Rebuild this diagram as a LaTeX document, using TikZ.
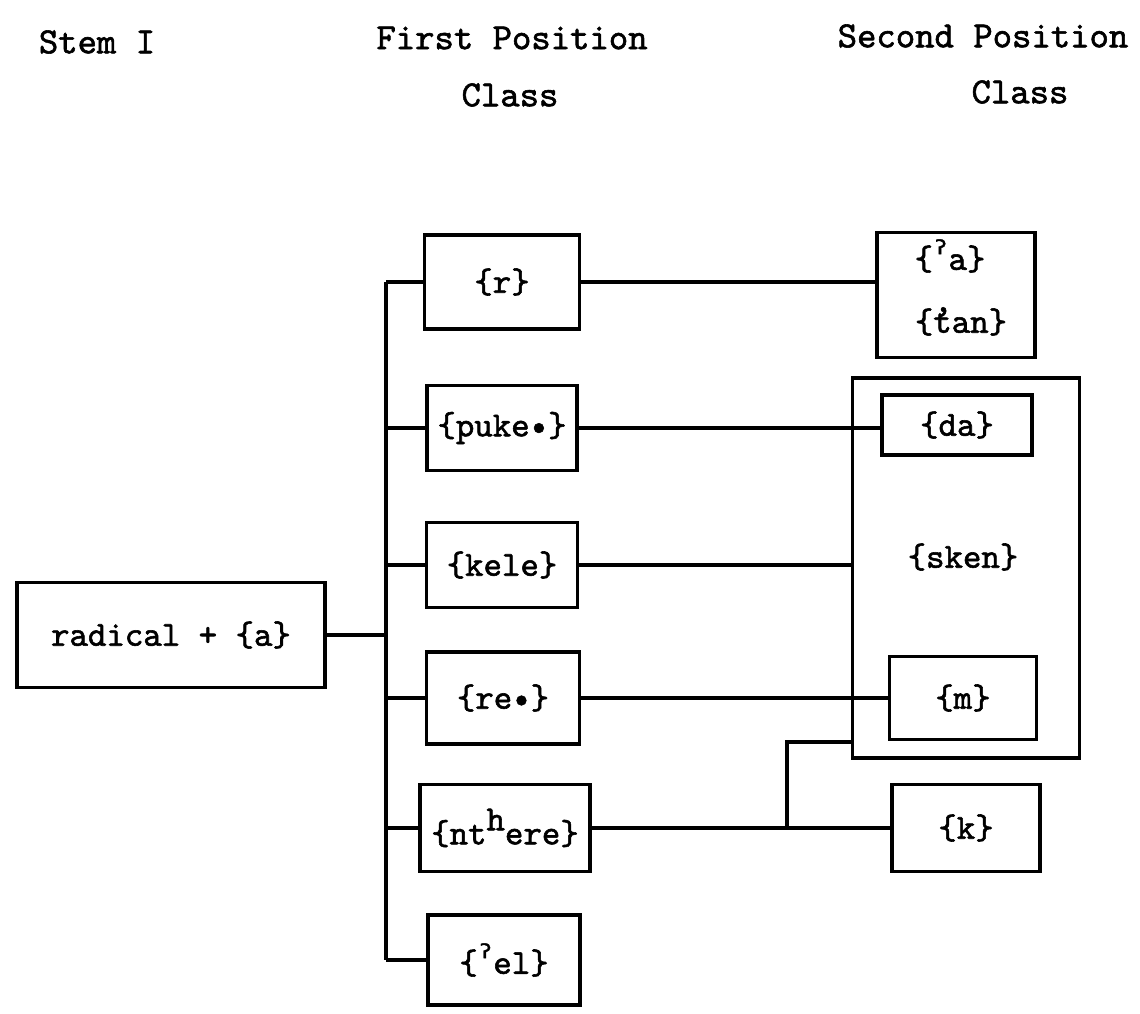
\documentclass[tikz,border=0pt]{standalone}
\usepackage{fontspec}
\newfontfamily\typefont{lmmono10-regular.otf}[FakeBold=1.6]
\newfontfamily\glotfont{DejaVu Sans Mono}[FakeBold=1.2]
\usetikzlibrary{positioning}
\tikzset{
  box/.style={
    draw,
    line width=2pt,
    inner sep=0pt
  },
  wire/.style={
    line width=2pt
  },
  word/.style={
    font=\fontsize{20}{24}\selectfont\typefont,
    inner sep=1pt
  },
  head/.style={
    font=\fontsize{21}{25}\selectfont\typefont
  },
}
\newcommand{\glot}{{\glotfont\kern-0.08em ˀ\kern-0.08em}}
\newcommand{\tej}{\rlap{\smash{\raisebox{0.6em}{\kern0.02em,}}}t}

\begin{document}
\begin{tikzpicture}[x=0.02cm, y=-0.02cm, every node/.style={word}]
                \useasboundingbox (0,0) rectangle (1140,1014);

                \node[head] (hstem) at (97,42) {Stem I};
                \node[head] (hfirst) at (512,38) {First Position};
                \node[head] (hfirstc) at (510,95) {Class};
                \node[head] (hsecond) at (983,36) {Second Position};
                \node[head] (hsecondc) at (1020,92) {Class};

                \node[box, minimum width=6.16cm, minimum height=2.1cm] (rad) at (171,635) {radical + \{a\}};

                \node[box, minimum width=3.1cm, minimum height=1.88cm] (r) at (502,282) {\{r\}};
                \node[box, minimum width=3.0cm, minimum height=1.7cm] (puke) at (502,428) {\{puke\textbullet\}};
                \node[box, minimum width=3.02cm, minimum height=1.7cm] (kele) at (502,565) {\{kele\}};
                \node[box, minimum width=3.06cm, minimum height=1.84cm] (re) at (503,698) {\{re\textbullet\}};
                \node[box, minimum width=3.4cm, minimum height=1.74cm] (nth) at (505,828) {\{nt\raisebox{0.4em}{h}ere\}};
                \node[box, minimum width=3.04cm, minimum height=1.8cm] (el) at (504,960) {\{\glot el\}};

                \node[box, minimum width=3.16cm, minimum height=2.5cm] (sa) at (956,295) {};
                \node (sa1) at (950,256) {\{\glot a\}};
                \node (sa2) at (961,322) {\{\tej an\}};
                \node[box, minimum width=4.54cm, minimum height=7.6cm] (sken) at (966,568) {};
                \node (skent) at (963,557) {\{sken\}};
                \node[box, minimum width=3.0cm, minimum height=1.2cm] (da) at (957,425) {\{da\}};
                \node[box, minimum width=2.94cm, minimum height=1.66cm] (m) at (963,698) {\{m\}};
                \node[box, minimum width=2.96cm, minimum height=1.74cm] (k) at (966,828) {\{k\}};

                \coordinate (bus) at (386,0);
                \coordinate (nj) at (787,828);
                \coordinate (skin) at (853,742);

                \draw[wire] (rad.east) -- (rad.east -| bus);
                \draw[wire] (bus |- r.west) -- (bus |- el.west);
                \foreach \n in {r,puke,kele,re,nth,el}
                    \draw[wire] (bus |- \n.west) -- (\n.west);

                \draw[wire] (r.east) -- (r.east -| sa.west);
                \draw[wire] (puke.east) -- (puke.east -| da.west);
                \draw[wire] (kele.east) -- (kele.east -| sken.west);
                \draw[wire] (re.east) -- (re.east -| m.west);
                \draw[wire] (nth.east) -- (nth.east -| k.west);
                \draw[wire] (nj) |- (skin);
\end{tikzpicture}
\end{document}
